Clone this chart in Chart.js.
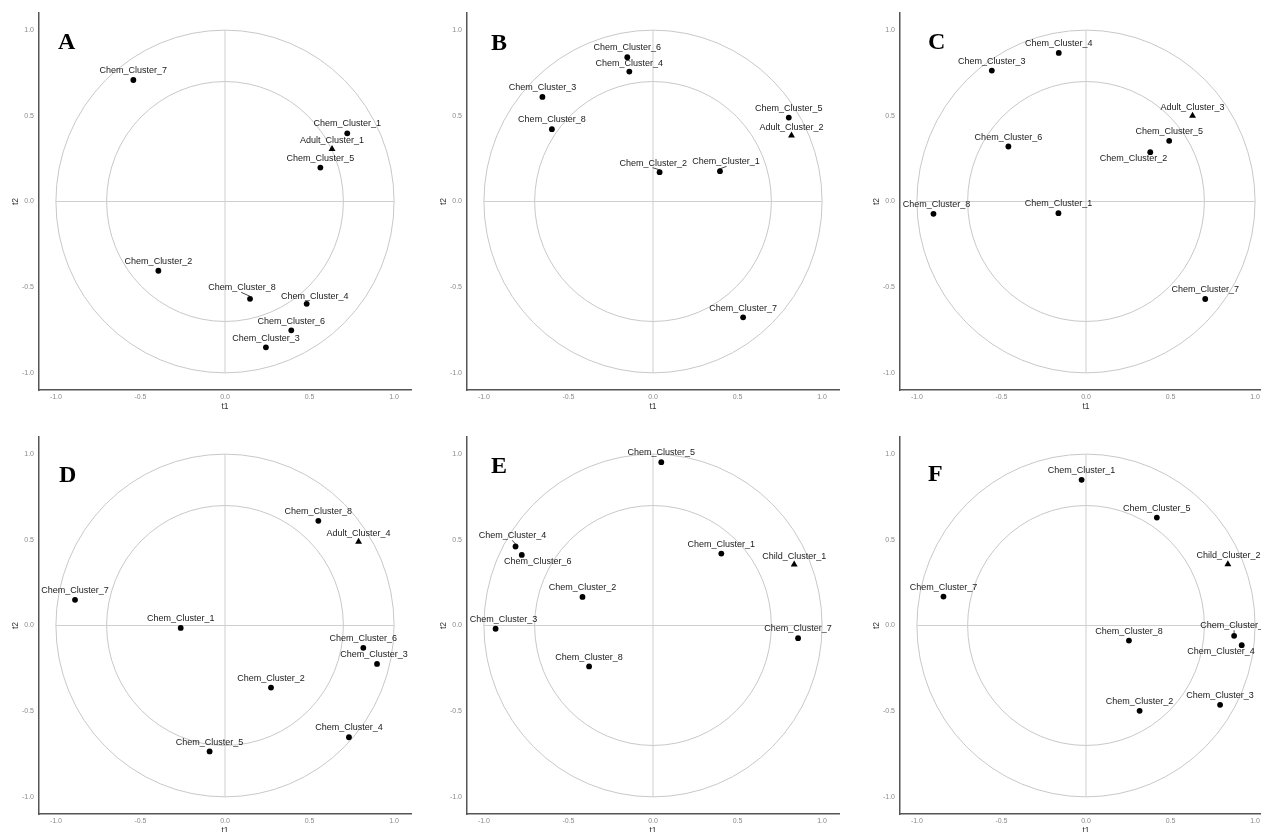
<!DOCTYPE html>
<html>
<head>
<meta charset="utf-8">
<script src="https://cdn.jsdelivr.net/npm/chart.js@4.4.1/dist/chart.umd.min.js"></script>
<style>
  html, body { margin: 0; padding: 0; background: #fff; overflow: hidden; width: 1261px; height: 832px; }
  canvas { position: absolute; }
</style>
</head>
<body>
<canvas id="panelA" width="420" height="423" style="left:0px;top:0px"></canvas>
<canvas id="panelB" width="420" height="423" style="left:428px;top:0px"></canvas>
<canvas id="panelC" width="420" height="423" style="left:861px;top:0px"></canvas>
<canvas id="panelD" width="420" height="423" style="left:0px;top:424px"></canvas>
<canvas id="panelE" width="420" height="423" style="left:428px;top:424px"></canvas>
<canvas id="panelF" width="420" height="423" style="left:861px;top:424px"></canvas>
<script>
// tick values shared by both axes of every panel
const tickValues = [-1, -0.5, 0, 0.5, 1];
const chemNames = ['Chem_Cluster_1', 'Chem_Cluster_2', 'Chem_Cluster_3', 'Chem_Cluster_4',
                   'Chem_Cluster_5', 'Chem_Cluster_6', 'Chem_Cluster_7', 'Chem_Cluster_8'];

// Panel A
const chemT1_A = [0.723, -0.394, 0.242, 0.483, 0.564, 0.392, -0.542, 0.148];
const chemT2_A = [0.398, -0.404, -0.851, -0.597, 0.198, -0.752, 0.709, -0.568];
const refName_A = 'Adult_Cluster_1';
const refT1_A = 0.633, refT2_A = 0.307;

// Panel B
const chemT1_B = [0.396, 0.039, -0.654, -0.140, 0.803, -0.152, 0.533, -0.598];
const chemT2_B = [0.177, 0.171, 0.610, 0.758, 0.490, 0.842, -0.676, 0.422];
const refName_B = 'Adult_Cluster_2';
const refT1_B = 0.819, refT2_B = 0.385;

// Panel C
const chemT1_C = [-0.163, 0.380, -0.557, -0.161, 0.492, -0.459, 0.705, -0.902];
const chemT2_C = [-0.068, 0.288, 0.764, 0.867, 0.354, 0.321, -0.569, -0.072];
const refName_C = 'Adult_Cluster_3';
const refT1_C = 0.630, refT2_C = 0.500;

// Panel D
const chemT1_D = [-0.262, 0.272, 0.899, 0.733, -0.091, 0.818, -0.887, 0.552];
const chemT2_D = [-0.014, -0.362, -0.224, -0.652, -0.735, -0.130, 0.150, 0.611];
const refName_D = 'Adult_Cluster_4';
const refT1_D = 0.790, refT2_D = 0.488;

// Panel E
const chemT1_E = [0.404, -0.417, -0.931, -0.813, 0.049, -0.776, 0.858, -0.378];
const chemT2_E = [0.420, 0.167, -0.019, 0.461, 0.953, 0.412, -0.074, -0.239];
const refName_E = 'Child_Cluster_1';
const refT1_E = 0.835, refT2_E = 0.356;

// Panel F
const chemT1_F = [-0.026, 0.317, 0.793, 0.921, 0.419, 0.876, -0.843, 0.254];
const chemT2_F = [0.850, -0.498, -0.463, -0.115, 0.630, -0.060, 0.169, -0.088];
const refName_F = 'Child_Cluster_2';
const refT1_F = 0.839, refT2_F = 0.358;

// label placement (pixels from the point), only where it differs from "just above"
const labelShifts = {
  A: { Chem_Cluster_8: [-8, -11, true], Chem_Cluster_4: [8, -7.5], Adult_Cluster_1: [0, -8.7] },
  B: { Chem_Cluster_4: [0, -8], Chem_Cluster_2: [-6.3, -9, true], Chem_Cluster_1: [6, -9.3, true], Adult_Cluster_2: [0, -8] },
  C: { Chem_Cluster_2: [-16.7, 6.7], Chem_Cluster_8: [3, -9.3], Adult_Cluster_3: [0, -8.7] },
  D: { Chem_Cluster_3: [-3, -9], Adult_Cluster_4: [0, -8.7] },
  E: { Chem_Cluster_4: [-3, -10.7, true], Chem_Cluster_6: [16, 6.7], Chem_Cluster_3: [8, -9], Child_Cluster_1: [0, -8.3] },
  F: { Chem_Cluster_4: [-20.7, 6.7], Chem_Cluster_6: [0, -10, true], Child_Cluster_2: [0.7, -8.3] }
};
// panel letter anchor (left, baseline) inside each canvas
const letterPos = { A: [58, 49], B: [63, 50], C: [67, 49], D: [59, 57.5], E: [63, 48.5], F: [67, 57] };

const FONT = '"Liberation Sans", Arial, sans-serif';

// correlation circles (r = 1 and 0.7) plus the axes through the origin
const circlePlugin = {
  id: 'circles',
  beforeDatasetsDraw(chart) {
    const { ctx, scales: { x, y } } = chart;
    const cx = x.getPixelForValue(0), cy = y.getPixelForValue(0);
    ctx.save();
    ctx.strokeStyle = '#c8c8c8';
    ctx.lineWidth = 1;
    [1, 0.7].forEach(r => {
      const rx = x.getPixelForValue(r) - cx;
      const ry = cy - y.getPixelForValue(r);
      ctx.beginPath();
      ctx.ellipse(cx, cy, rx, ry, 0, 0, Math.PI * 2);
      ctx.stroke();
    });
    ctx.strokeStyle = '#cfcfcf';
    ctx.beginPath();
    ctx.moveTo(x.getPixelForValue(-1), cy);
    ctx.lineTo(x.getPixelForValue(1), cy);
    ctx.moveTo(cx, y.getPixelForValue(1));
    ctx.lineTo(cx, y.getPixelForValue(-1));
    ctx.stroke();
    ctx.restore();
  }
};

const labelPlugin = {
  id: 'pointLabels',
  afterDatasetsDraw(chart, args, opts) {
    const ctx = chart.ctx;
    const shifts = labelShifts[opts.panel] || {};
    ctx.save();
    ctx.font = '9px ' + FONT;
    ctx.fillStyle = '#1a1a1a';
    ctx.strokeStyle = '#1a1a1a';
    ctx.lineWidth = 0.8;
    ctx.textAlign = 'center';
    ctx.textBaseline = 'middle';
    chart.data.datasets.forEach((ds, i) => {
      chart.getDatasetMeta(i).data.forEach((pt, j) => {
        const name = ds.names[j];
        const s = shifts[name] || [0, -9.3];
        const lx = pt.x + s[0], ly = pt.y + s[1];
        if (s[2]) {
          ctx.beginPath();
          ctx.moveTo(lx + s[0] * 0.1, ly + 4.5);
          ctx.lineTo(pt.x - s[0] * 0.15, pt.y - 2);
          ctx.stroke();
        }
        ctx.fillText(name, lx, ly);
      });
    });
    // panel letter
    const lp = letterPos[opts.panel];
    ctx.font = 'bold 24px "Liberation Serif", "Times New Roman", serif';
    ctx.fillStyle = '#000';
    ctx.textAlign = 'left';
    ctx.textBaseline = 'alphabetic';
    ctx.fillText(opts.panel, lp[0], lp[1]);
    ctx.restore();
  }
};

function axisOptions(title, horizontal) {
  return {
    type: 'linear',
    min: -1.1,
    max: 1.1,
    afterBuildTicks: scale => { scale.ticks = tickValues.map(v => ({ value: v })); },
    afterFit: scale => {
      if (horizontal) scale.height = 33; else scale.width = 39;
    },
    ticks: {
      callback: v => v.toFixed(1),
      color: '#8a8a8a',
      font: { size: 7, family: FONT },
      padding: horizontal ? 3 : 5,
      maxRotation: 0,
      autoSkip: false
    },
    grid: { display: false, drawTicks: false },
    border: { display: true, color: '#555', width: 1.5 },
    title: {
      display: true,
      text: title,
      color: '#333',
      font: { size: 8.5, family: FONT },
      padding: { top: 11, bottom: 11 }
    }
  };
}

function makePanel(panel, t1, t2, refName, refT1, refT2) {
  const chemPoints = t1.map((v, i) => ({ x: v, y: t2[i] }));
  new Chart(document.getElementById('panel' + panel), {
    type: 'scatter',
    data: {
      datasets: [
        {
          data: chemPoints,
          names: chemNames,
          pointStyle: 'circle',
          pointRadius: 2.9,
          backgroundColor: '#000',
          borderColor: '#000',
          borderWidth: 0
        },
        {
          data: [{ x: refT1, y: refT2 }],
          names: [refName],
          pointStyle: 'triangle',
          pointRadius: 4,
          backgroundColor: '#000',
          borderColor: '#000',
          borderWidth: 0
        }
      ]
    },
    options: {
      responsive: false,
      animation: false,
      events: [],
      layout: { padding: { top: 13, right: 9, left: 0, bottom: 0 } },
      scales: {
        x: axisOptions('t1', true),
        y: axisOptions('t2', false)
      },
      plugins: {
        legend: { display: false },
        tooltip: { enabled: false },
        pointLabels: { panel: panel }
      }
    },
    plugins: [circlePlugin, labelPlugin]
  });
}

makePanel('A', chemT1_A, chemT2_A, refName_A, refT1_A, refT2_A);
makePanel('B', chemT1_B, chemT2_B, refName_B, refT1_B, refT2_B);
makePanel('C', chemT1_C, chemT2_C, refName_C, refT1_C, refT2_C);
makePanel('D', chemT1_D, chemT2_D, refName_D, refT1_D, refT2_D);
makePanel('E', chemT1_E, chemT2_E, refName_E, refT1_E, refT2_E);
makePanel('F', chemT1_F, chemT2_F, refName_F, refT1_F, refT2_F);
</script>
</body>
</html>
